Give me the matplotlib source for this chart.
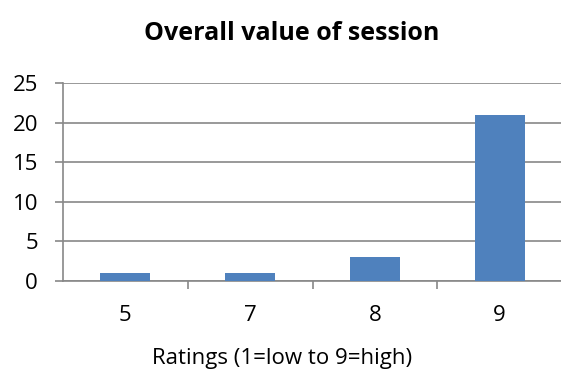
import matplotlib
matplotlib.use("Agg")
import matplotlib.pyplot as plt

# Data
ratings = ["5", "7", "8", "9"]
counts = [1, 1, 3, 21]
y_ticks = [0, 5, 10, 15, 20, 25]

plt.rcParams['font.family'] = ['Open Sans', 'DejaVu Sans']

W, H = 561, 371
fig = plt.figure(figsize=(W / 100, H / 100), dpi=100)
ax = fig.add_axes([63 / W, 1 - 281 / H, (562 - 63) / W, (281 - 83) / H])

x = range(len(ratings))
ax.bar(x, counts, width=0.4, color="#4F81BD", zorder=3)

ax.set_xlim(-0.5, len(ratings) - 0.5)
ax.set_ylim(0, 25)
ax.set_yticks(y_ticks)
ax.set_xticks([i + 0.5 for i in range(len(ratings) - 1)], minor=True)
ax.set_xticks(list(x))
ax.set_xticklabels(ratings)

grey = "#888888"
ax.grid(axis="y", color=grey, linewidth=1.2, zorder=0)
for s in ["top", "right"]:
    ax.spines[s].set_visible(False)
for s in ["left", "bottom"]:
    ax.spines[s].set_color(grey)
    ax.spines[s].set_linewidth(1.2)

ax.tick_params(axis="y", length=6, color=grey, width=1.2, labelsize=16, pad=12)
ax.tick_params(axis="x", which="major", length=0, labelsize=16, pad=17)
ax.tick_params(axis="x", which="minor", length=6, color=grey, width=1.2)

fig.text(282 / W, 1 - 364 / H, "Ratings (1=low to 9=high)", fontsize=16,
         ha="center", va="baseline")
fig.text(292 / W, 1 - 40 / H, "Overall value of session", fontsize=18,
         fontweight="bold", ha="center", va="baseline")

fig.savefig("out.png", dpi=100)
